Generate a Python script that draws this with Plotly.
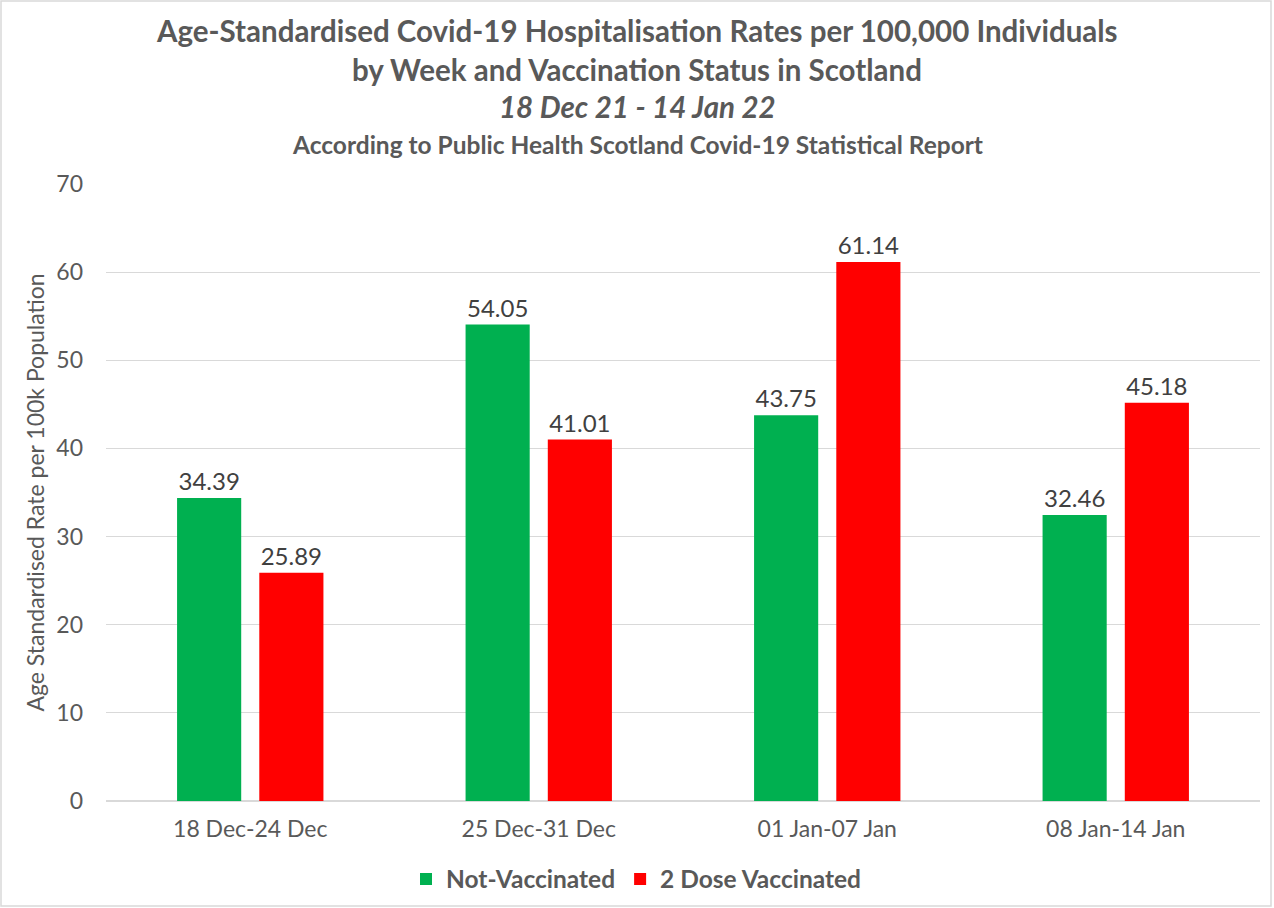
import plotly.graph_objects as go

weeks = ["18 Dec-24 Dec", "25 Dec-31 Dec", "01 Jan-07 Jan", "08 Jan-14 Jan"]
not_vaccinated = [34.39, 54.05, 43.75, 32.46]
two_dose = [25.89, 41.01, 61.14, 45.18]
series_names = ["Not-Vaccinated", "2 Dose Vaccinated"]
series_colors = ["#00B050", "#FF0000"]

W, H = 1274, 908
ML, MR, MT, MB = 106, 14, 184, 107
PW, PH = W - ML - MR, H - MT - MB

FONT = "Lato"
GREY = "#595959"

def py(pix):
    return (H - MB - pix) / PH

def px(pix):
    return (pix - ML) / PW

fig = go.Figure()
for name, vals, col in zip(series_names, [not_vaccinated, two_dose], series_colors):
    fig.add_trace(go.Bar(
        x=weeks, y=vals, name=name, marker=dict(color=col, line=dict(width=0)),
        text=[f"{v:.2f}" for v in vals], textposition="outside",
        textfont=dict(family=FONT, size=24, color="#404040"),
        cliponaxis=False,
    ))

titles = [
    ("<b>Age-Standardised Covid-19 Hospitalisation Rates per 100,000 Individuals</b>", 30, 29.5),
    ("<b>by Week and Vaccination Status in Scotland</b>", 70, 29.5),
    ("<b><i>18 Dec 21 - 14 Jan 22</i></b>", 107, 29.5),
    ("<b>According to Public Health Scotland Covid-19 Statistical Report</b>", 145, 24.5),
]
for txt, ypix, sz in titles:
    fig.add_annotation(text=txt, xref="paper", yref="paper", x=px(637), y=py(ypix),
                       xanchor="center", yanchor="middle", showarrow=False,
                       font=dict(family=FONT, size=sz, color=GREY))

fig.add_shape(type="rect", xref="paper", yref="paper",
              x0=px(1), x1=px(1271), y0=py(906), y1=py(1),
              line=dict(color="#D9D9D9", width=1.5), fillcolor="rgba(0,0,0,0)", layer="below")

fig.update_layout(
    width=W, height=H,
    margin=dict(l=ML, r=MR, t=MT, b=MB, autoexpand=False),
    paper_bgcolor="white", plot_bgcolor="white",
    barmode="group", bargap=0.43, bargroupgap=0.22,
    font=dict(family=FONT, color=GREY),
    showlegend=True,
    legend=dict(orientation="h", x=px(636), y=py(879), xanchor="center", yanchor="middle",
                font=dict(family=FONT, size=24.5, color=GREY, weight="bold"),
                tracegroupgap=0, bgcolor="rgba(0,0,0,0)"),
    xaxis=dict(showgrid=False, showline=False, ticks="", zeroline=False,
               tickfont=dict(family=FONT, size=23, color=GREY), ticklabelstandoff=12),
    yaxis=dict(range=[0, 70], dtick=10, showgrid=True, gridcolor="#D9D9D9", gridwidth=1,
               zeroline=True, zerolinecolor="#D9D9D9", zerolinewidth=1.5, showline=False,
               tickfont=dict(family=FONT, size=23, color=GREY), ticklabelstandoff=22,
               title=dict(text="Age Standardised Rate per 100k Population",
                          font=dict(family=FONT, size=23, color=GREY), standoff=5)),
)

fig.write_html("out.html", config={"displayModeBar": False},
               post_script="document.body.style.margin='0px';")
